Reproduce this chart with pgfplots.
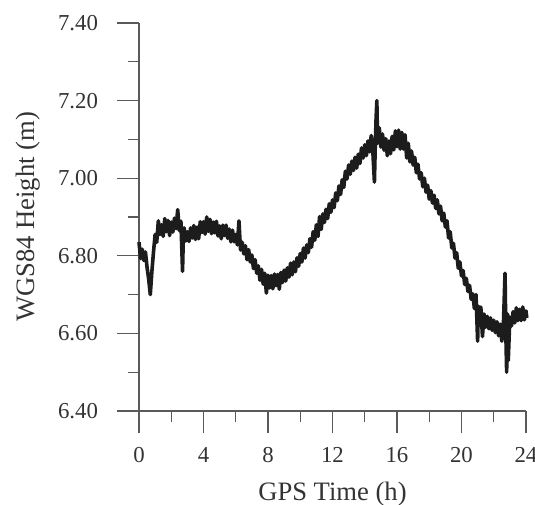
\documentclass[border=0pt]{standalone}
\usepackage{fontspec}
\setmainfont{Liberation Serif}
\usepackage{pgfplots}
\pgfplotsset{compat=1.18}
\definecolor{axgray}{HTML}{5A5A5A}
\definecolor{txtgray}{HTML}{333333}
\definecolor{trace}{HTML}{1C1C1C}
\begin{document}
\begin{tikzpicture}
\begin{axis}[
  scale only axis,
  width=193.5pt, height=194pt,
  xmin=0, xmax=24, ymin=6.4, ymax=7.4,
  axis x line=bottom, axis y line=left,
  axis line style={-, draw=axgray, line width=0.6pt},
  every tick/.style={draw=axgray, line width=0.6pt},
  tick align=outside,
  major tick length=11pt, minor tick length=5.5pt,
  xtick={0,4,...,24}, minor xtick={2,6,...,22},
  ytick={6.4,6.6,...,7.41}, minor ytick={6.5,6.7,...,7.31},
  /pgf/number format/assume math mode=true,
  yticklabel style={/pgf/number format/fixed, /pgf/number format/fixed zerofill, /pgf/number format/precision=2, xshift=-6pt},
  xticklabel style={yshift=-3.5pt},
  ticklabel style={font=\fontsize{11.4}{13}\selectfont, text=txtgray},
  label style={font=\fontsize{13.3}{15}\selectfont, text=txtgray},
  xlabel={GPS Time (h)},
  ylabel={WGS84 Height (m)},
  xlabel style={at={(axis description cs:0.5,0)}, anchor=base, yshift=-44.5pt},
  ylabel style={at={(axis description cs:0,0.5)}, anchor=base, yshift=52pt},
  clip=false,
]
\addplot[trace, line width=1.8pt, line join=round] coordinates {
(0.0,6.835)(0.1,6.793)(0.2,6.817)(0.3,6.788)(0.4,6.810)(0.5,6.770)(0.6,6.740)(0.7,6.700)(0.75,6.730)(0.8,6.760)(0.9,6.810)
(1.0,6.855)(1.1,6.835)(1.2,6.890)(1.3,6.855)(1.4,6.880)(1.5,6.850)(1.6,6.896)(1.7,6.862)(1.8,6.891)(1.9,6.852)
(2.0,6.887)(2.1,6.861)(2.2,6.897)(2.3,6.870)(2.4,6.919)(2.5,6.865)(2.6,6.889)(2.7,6.760)(2.75,6.850)(2.8,6.872)(2.9,6.838)
(3.0,6.862)(3.1,6.837)(3.2,6.872)(3.3,6.846)(3.4,6.878)(3.5,6.842)(3.6,6.874)(3.7,6.844)(3.8,6.888)(3.9,6.860)
(4.0,6.888)(4.1,6.856)(4.2,6.900)(4.3,6.863)(4.4,6.894)(4.5,6.857)(4.6,6.887)(4.7,6.859)(4.8,6.889)(4.9,6.851)
(5.0,6.877)(5.1,6.844)(5.2,6.879)(5.3,6.852)(5.4,6.879)(5.5,6.845)(5.6,6.869)(5.7,6.836)(5.8,6.866)(5.9,6.836)
(6.0,6.855)(6.1,6.828)(6.2,6.890)(6.25,6.850)(6.3,6.815)(6.4,6.835)(6.5,6.805)(6.6,6.826)(6.7,6.790)(6.8,6.816)(6.9,6.784)
(7.0,6.802)(7.1,6.767)(7.2,6.790)(7.3,6.755)(7.4,6.774)(7.5,6.737)(7.6,6.765)(7.7,6.727)(7.8,6.755)(7.9,6.704)
(8.0,6.750)(8.1,6.717)(8.2,6.749)(8.3,6.715)(8.4,6.753)(8.5,6.723)(8.6,6.752)(8.7,6.714)(8.8,6.757)(8.9,6.731)
(9.0,6.763)(9.1,6.735)(9.2,6.769)(9.3,6.745)(9.4,6.781)(9.5,6.751)(9.6,6.784)(9.7,6.759)(9.8,6.795)(9.9,6.773)
(10.0,6.806)(10.1,6.784)(10.2,6.820)(10.3,6.794)(10.4,6.828)(10.5,6.808)(10.6,6.844)(10.7,6.822)(10.8,6.862)(10.9,6.840)
(11.0,6.880)(11.1,6.850)(11.2,6.901)(11.3,6.868)(11.4,6.908)(11.5,6.886)(11.6,6.920)(11.7,6.896)(11.8,6.934)(11.9,6.912)
(12.0,6.944)(12.1,6.924)(12.2,6.962)(12.3,6.942)(12.4,6.980)(12.5,6.958)(12.6,6.996)(12.7,6.976)(12.8,7.018)(12.9,6.998)
(13.0,7.034)(13.1,7.010)(13.2,7.044)(13.3,7.020)(13.4,7.054)(13.5,7.026)(13.6,7.062)(13.7,7.038)(13.8,7.078)(13.9,7.052)
(14.0,7.086)(14.1,7.058)(14.2,7.096)(14.3,7.068)(14.4,7.110)(14.5,7.070)(14.6,6.990)(14.65,7.080)(14.7,7.150)(14.75,7.200)(14.8,7.090)(14.9,7.130)
(15.0,7.080)(15.1,7.114)(15.2,7.072)(15.3,7.102)(15.4,7.058)(15.5,7.096)(15.6,7.063)(15.7,7.108)(15.8,7.073)(15.9,7.122)
(16.0,7.081)(16.1,7.124)(16.2,7.075)(16.3,7.118)(16.4,7.075)(16.5,7.112)(16.6,7.052)(16.7,7.090)(16.8,7.042)(16.9,7.070)
(17.0,7.034)(17.1,7.054)(17.2,7.014)(17.3,7.036)(17.4,6.998)(17.5,7.014)(17.6,6.978)(17.7,7.000)(17.8,6.964)(17.9,6.982)
(18.0,6.946)(18.1,6.968)(18.2,6.936)(18.3,6.956)(18.4,6.922)(18.5,6.944)(18.6,6.908)(18.7,6.928)(18.8,6.890)(18.9,6.910)
(19.0,6.874)(19.1,6.890)(19.2,6.846)(19.3,6.862)(19.4,6.820)(19.5,6.832)(19.6,6.794)(19.7,6.808)(19.8,6.768)(19.9,6.784)
(20.0,6.748)(20.1,6.762)(20.2,6.726)(20.3,6.742)(20.4,6.708)(20.5,6.724)(20.6,6.688)(20.7,6.702)(20.8,6.664)(20.9,6.700)
(21.0,6.580)(21.05,6.670)(21.1,6.638)(21.2,6.668)(21.3,6.592)(21.4,6.650)(21.5,6.616)(21.6,6.644)(21.7,6.612)(21.8,6.640)(21.9,6.608)
(22.0,6.634)(22.1,6.602)(22.2,6.630)(22.3,6.594)(22.4,6.624)(22.5,6.580)(22.6,6.624)(22.7,6.755)(22.75,6.600)(22.8,6.500)(22.85,6.650)(22.9,6.530)
(23.0,6.642)(23.1,6.619)(23.2,6.656)(23.3,6.627)(23.4,6.666)(23.5,6.633)(23.6,6.662)(23.7,6.633)(23.8,6.668)(23.9,6.635)
(24.0,6.658)(24.05,6.640)
};
\coordinate (bbsw) at (axis cs:-8.62,6.1603);
\coordinate (bbne) at (axis cs:24.558,7.4593);
\end{axis}
\pgfresetboundingbox
\useasboundingbox (bbsw) rectangle (bbne);
\end{tikzpicture}
\end{document}
